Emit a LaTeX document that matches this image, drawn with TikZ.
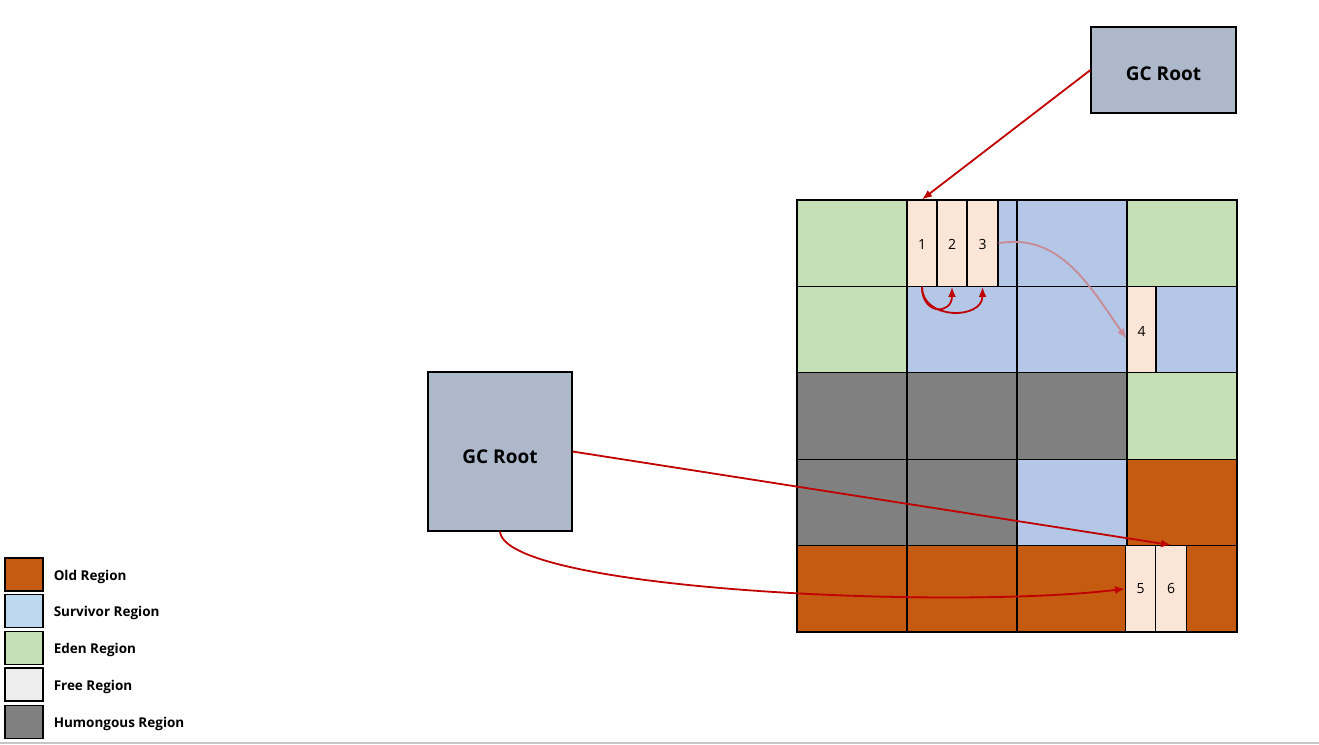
\documentclass[tikz,border=0pt]{standalone}
\usepackage{fontspec}
\setmainfont{Open Sans}
\usepackage{xcolor}
\usepackage{tikz}
\usetikzlibrary{arrows.meta,positioning}

\definecolor{oldc}{HTML}{C55A11}
\definecolor{survc}{HTML}{B4C7E7}
\definecolor{survl}{HTML}{BDD7EE}
\definecolor{edenc}{HTML}{C5E0B4}
\definecolor{freec}{HTML}{EDEDED}
\definecolor{humc}{HTML}{808080}
\definecolor{objc}{HTML}{FBE5D6}
\definecolor{rootc}{HTML}{ADB9CA}
\definecolor{refred}{HTML}{C00000}
\definecolor{refpink}{HTML}{C98A95}

\newcommand{\txtdown}[2]{\raisebox{-#1}[\height][\depth]{#2}}

\tikzset{
  gcroot/.style={draw=black,line width=1.1pt,fill=rootc,inner sep=0pt,
    font=\fontsize{19}{20}\selectfont\bfseries},
  objbox/.style={draw=black,line width=1.1pt,fill=objc,inner sep=0pt,
    minimum width=30pt,minimum height=86.4pt,font=\fontsize{14}{14}\selectfont},
  legbox/.style={draw=black,line width=1.1pt,minimum width=38pt,minimum height=33pt,inner sep=0pt},
  legtext/.style={right=10pt,inner sep=0pt,font=\fontsize{13.5}{14}\selectfont\bfseries},
  refarrow/.style={draw=refred,line width=1.8pt,-{Latex[length=10pt,width=8pt]}},
}

\begin{document}
\begin{tikzpicture}[x=1pt,y=-1pt]
  \useasboundingbox (0,0) rectangle (1319,744);
  \draw[gray!45,line width=1.5pt] (0,743) -- (1319,743);

  % 堆的区域格子 列/行/颜色
  \foreach \i/\j/\c in {0/0/edenc,1/0/survc,2/0/survc,3/0/edenc,
                        0/1/edenc,1/1/survc,2/1/survc,3/1/survc,
                        0/2/humc,1/2/humc,2/2/humc,3/2/edenc,
                        0/3/humc,1/3/humc,2/3/survc,3/3/oldc,
                        0/4/oldc,1/4/oldc,2/4/oldc,3/4/oldc}
    \filldraw[fill=\c,draw=black,line width=1.1pt]
      (797+110*\i,200+86.4*\j) rectangle ++(110,86.4);

  % 对象
  \node[objbox] (o1) at (922,243.2) {\txtdown{1.5pt}{1}};
  \node[objbox] (o2) at (952,243.2) {\txtdown{1.5pt}{2}};
  \node[objbox,minimum width=31pt] (o3) at (982.5,243.2) {\txtdown{1.5pt}{3}};
  \node[objbox,minimum width=29pt] (o4) at (1141.5,329.6) {\txtdown{1.5pt}{4}};
  \node[objbox] (o5) at (1140.5,588.8) {5};
  \node[objbox,minimum width=31pt] (o6) at (1171,588.8) {6};

  % GC Root
  \node[gcroot,minimum width=145pt,minimum height=86pt] (root1) at (1163.5,70) {\txtdown{4pt}{GC Root}};
  \node[gcroot,minimum width=144pt,minimum height=159pt] (root2) at (500,451.5) {\txtdown{5pt}{GC Root}};

  % 引用关系
  \draw[refarrow] (root1.west) -- (o1.north);
  \draw[refarrow] (o1.south) to[out=-90,in=-90,looseness=2.4] (o2.south);
  \draw[refarrow] (o1.south) to[out=-90,in=-90,looseness=1.4] (o3.south);
  \draw[refarrow,draw=refpink] (o3.east) to[out=10,in=125] ([yshift=-9pt]o4.west);
  \draw[refarrow] (root2.east) -- (o6.north);
  \draw[refarrow] (root2.south) .. controls (505,590) and (950,610) .. (o5.west);

  % 图例
  \node[legbox,fill=oldc]  (lold)  at (24,574.5) {};
  \node[legbox,fill=survl] (lsurv) at (24,611)   {};
  \node[legbox,fill=edenc] (leden) at (24,648)   {};
  \node[legbox,fill=freec] (lfree) at (24,684.5) {};
  \node[legbox,fill=humc]  (lhum)  at (24,722)   {};
  \node[legtext,yshift=-2pt] at (lold.east)  {Old Region};
  \node[legtext,yshift=-2pt] at (lsurv.east) {Survivor Region};
  \node[legtext,yshift=-2pt] at (leden.east) {Eden Region};
  \node[legtext,yshift=-2pt] at (lfree.east) {Free Region};
  \node[legtext,yshift=-2pt] at (lhum.east)  {Humongous Region};
\end{tikzpicture}
\end{document}
